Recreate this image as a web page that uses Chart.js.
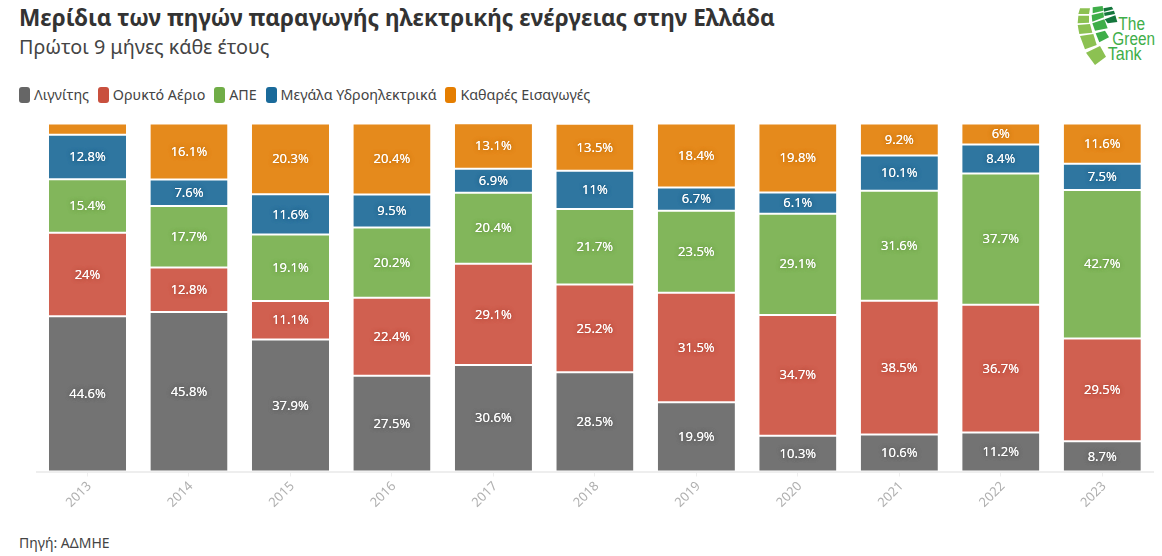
<!DOCTYPE html>
<html lang="el">
<head>
<meta charset="utf-8">
<script src="https://cdn.jsdelivr.net/npm/chart.js@4"></script>
<style>
    html, body { margin: 0; padding: 0; background: #fff; }
    body { width: 1162px; height: 556px; position: relative; overflow: hidden; font-family: "Noto Sans", sans-serif; color: #333; }
    #grafico { position: absolute; left: 0; top: 0; }
    .texto { position: absolute; white-space: nowrap; }
    #titulo { left: 19px; top: 2px; font-size: 22.6px; font-weight: 700; line-height: 32px; }
    #subtitulo { left: 19px; top: 33px; font-size: 19.8px; line-height: 28px; color: #444; }
    #leyenda { position: absolute; left: 19px; top: 85px; display: flex; font-size: 14.3px; line-height: 20px; color: #444; white-space: nowrap; }
    #leyenda span.item { display: flex; align-items: center; margin-right: 8.8px; }
    #leyenda i { width: 11px; height: 16px; border-radius: 3px; margin-right: 4px; display: block; }
    #fuente { left: 19px; top: 533px; font-size: 14px; line-height: 20px; color: #444; }
    #logo { position: absolute; left: 1040px; top: 0; }
</style>
</head>
<body>
<div id="titulo" class="texto">Μερίδια των πηγών παραγωγής ηλεκτρικής ενέργειας στην Ελλάδα</div>
<div id="subtitulo" class="texto">Πρώτοι 9 μήνες κάθε έτους</div>
<div id="leyenda"></div>
<svg id="logo" width="122" height="80" viewBox="0 0 366 240">
    <g fill="#8cc152">
        <polygon points="120,25 150,25 147,42 115,42"/>
        <polygon points="115,47 147,47 147,68 113,70"/>
        <polygon points="113,75 150,72 157,98 118,102"/>
        <polygon points="120,108 160,102 170,135 135,148"/>
        <polygon points="138,158 180,138 198,170 165,195"/>
    </g>
    <g fill="#3fae49">
        <polygon points="158,22 188,18 190,32 158,40"/>
        <polygon points="155,45 190,37 192,52 157,65"/>
        <polygon points="157,70 193,58 203,85 165,92"/>
        <polygon points="167,100 195,92 207,112 178,127"/>
    </g>
    <g fill="#14763c">
        <polygon points="190,25 215,20 220,28 192,35"/>
        <polygon points="192,38 222,32 225,42 194,48"/>
        <polygon points="194,58 226,46 232,66 203,70"/>
    </g>
    <g fill="#3fae49" font-family="Liberation Sans Narrow, Liberation Sans, sans-serif" font-size="56">
        <text x="235" y="90" textLength="80" lengthAdjust="spacingAndGlyphs">The</text>
        <text x="217" y="135" textLength="128" lengthAdjust="spacingAndGlyphs">Green</text>
        <text x="203" y="180" textLength="102" lengthAdjust="spacingAndGlyphs">Tank</text>
    </g>
</svg>
<div id="fuente" class="texto">Πηγή: ΑΔΜΗΕ</div>
<canvas id="grafico" width="1162" height="556"></canvas>
<script>
const anios = ['2013', '2014', '2015', '2016', '2017', '2018', '2019', '2020', '2021', '2022', '2023'];

const lignito = [44.6, 45.8, 37.9, 27.5, 30.6, 28.5, 19.9, 10.3, 10.6, 11.2, 8.7];
const gasNatural = [24, 12.8, 11.1, 22.4, 29.1, 25.2, 31.5, 34.7, 38.5, 36.7, 29.5];
const renovables = [15.4, 17.7, 19.1, 20.2, 20.4, 21.7, 23.5, 29.1, 31.6, 37.7, 42.7];
const hidro = [12.8, 7.6, 11.6, 9.5, 6.9, 11, 6.7, 6.1, 10.1, 8.4, 7.5];
const importaciones = [3.2, 16.1, 20.3, 20.4, 13.1, 13.5, 18.4, 19.8, 9.2, 6, 11.6];

const nombres = ['Λιγνίτης', 'Ορυκτό Αέριο', 'ΑΠΕ', 'Μεγάλα Υδροηλεκτρικά', 'Καθαρές Εισαγωγές'];
const series = [lignito, gasNatural, renovables, hidro, importaciones];
const coloresBarra = ['#737373', '#d06050', '#82b65b', '#2f76a0', '#e58a1c'];
const coloresLeyenda = ['#666666', '#c9503e', '#70ad47', '#1a6a9a', '#e57e00'];
const coloresHalo = ['#5c5c5c', '#b54a3b', '#6a9c45', '#1f5f86', '#c97510'];

// Leyenda
const leyenda = document.getElementById('leyenda');
nombres.forEach(function(nombre, i) {
    const item = document.createElement('span');
    item.className = 'item';
    item.innerHTML = `<i style="background:${coloresLeyenda[i]}"></i>${nombre}`;
    leyenda.appendChild(item);
});

// Etiquetas de porcentaje dentro de cada segmento
const etiquetas = {
    id: 'etiquetas',
    afterDatasetsDraw: function(chart) {
        const ctx = chart.ctx;
        ctx.save();
        ctx.font = '400 13px "Noto Sans"';
        ctx.textAlign = 'center';
        ctx.textBaseline = 'middle';
        chart.data.datasets.forEach(function(ds, i) {
            chart.getDatasetMeta(i).data.forEach(function(barra, j) {
                if (ds.data[j] < 5) return;
                const y = (barra.y + barra.base) / 2 + 0.5;
                ctx.shadowColor = coloresHalo[i];
                ctx.shadowBlur = 4;
                ctx.fillStyle = '#fff';
                ctx.fillText(ds.data[j] + '%', barra.x, y);
                ctx.fillText(ds.data[j] + '%', barra.x, y);
            });
        });
        ctx.restore();
    }
};

new Chart(document.getElementById('grafico').getContext('2d'), {
    type: 'bar',
    data: {
        labels: anios,
        datasets: series.map(function(valores, i) {
            return {
                label: nombres[i],
                data: valores,
                backgroundColor: coloresBarra[i],
                borderColor: '#ffffff',
                borderWidth: { top: 1, bottom: 1 },
                borderSkipped: false,
                categoryPercentage: 1,
                barPercentage: 0.76
            };
        })
    },
    options: {
        responsive: false,
        animation: false,
        layout: { padding: { left: 36.75, right: 9, top: 123.5, bottom: 0 } },
        plugins: { legend: { display: false }, tooltip: { enabled: false } },
        scales: {
            x: {
                stacked: true,
                afterFit: function(scale) { scale.height = 84.5; },
                grid: { offset: false, drawOnChartArea: false, color: '#eeeeee', tickLength: 5 },
                border: { color: '#eeeeee', width: 2 },
                ticks: {
                    color: '#b0b0b0',
                    font: { family: 'Noto Sans', size: 13 },
                    maxRotation: 45,
                    minRotation: 45,
                    padding: 2,
                    labelOffset: 2
                }
            },
            y: { stacked: true, display: false, min: 0, max: 100 }
        }
    },
    plugins: [etiquetas]
});
</script>
</body>
</html>
